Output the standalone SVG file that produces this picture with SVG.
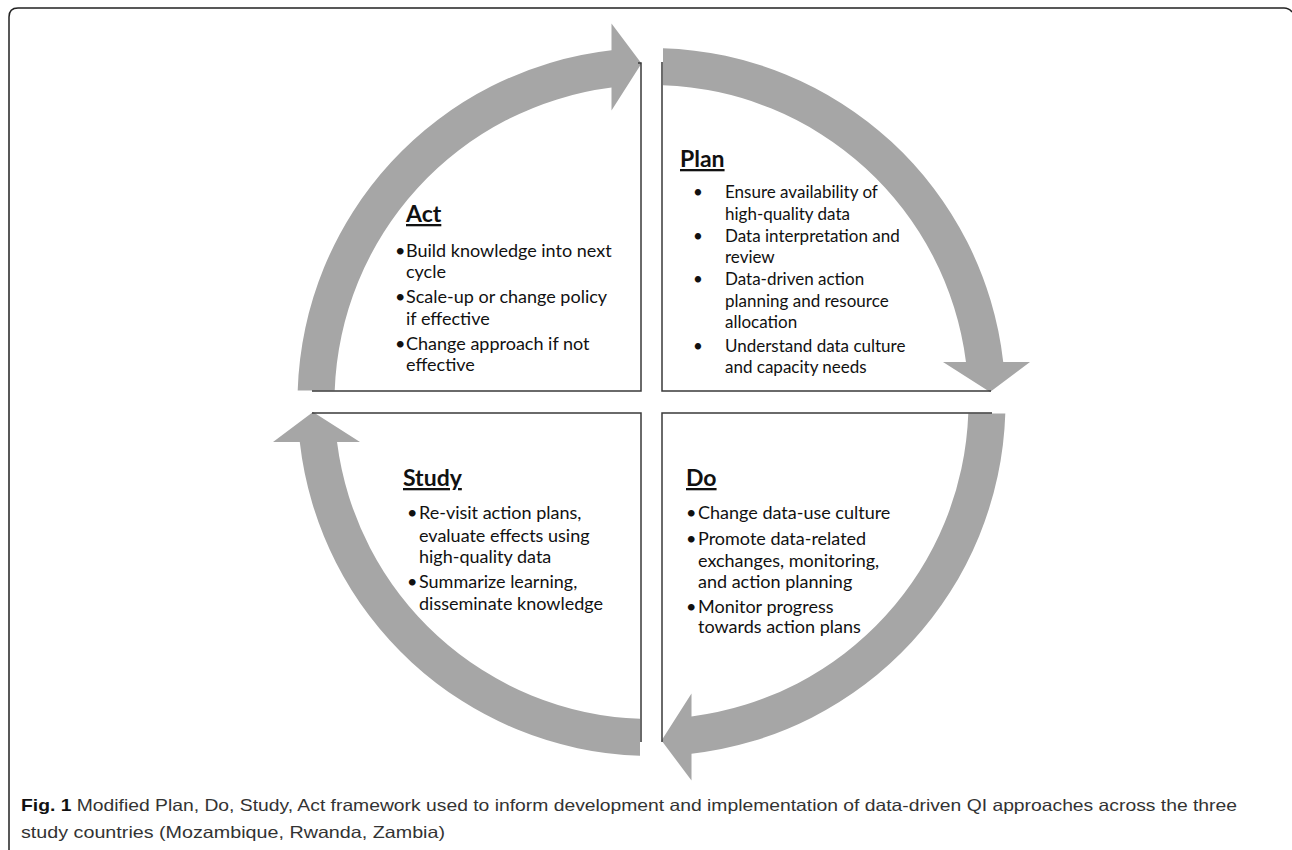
<svg xmlns="http://www.w3.org/2000/svg" width="1292" height="850" viewBox="0 0 1292 850">
<style>
.arrow{fill:#a6a6a6;stroke:none}
.edge{fill:none;stroke:#3a3a3a;stroke-width:1.5}
.t{font-family:Lato,"Open Sans",sans-serif;fill:#111}
.title{font-family:Lato,"Open Sans",sans-serif;font-weight:bold;font-size:23px;text-decoration:underline;fill:#111}
.b18{font-size:18px}
.b17{font-size:17px}
.cap{font-family:"Liberation Sans",Arial,sans-serif;font-size:16.5px;fill:#333}
</style>
<defs>
<path id="arc" class="arrow" d="M663,48.19 A354,354 0 0 1 1003.23,362 L1030,362 L990,392 L943,362 L965.97,362 A317,317 0 0 0 663,85.21 Z"/>
</defs>
<path d="M9,850 V17 Q9,8 18,8 H1284 Q1289,8 1292,12" fill="none" stroke="#222" stroke-width="1.5"/>
<g id="connectors">
<use href="#arc"/>
<use href="#arc" transform="rotate(90 651.5 402)"/>
<use href="#arc" transform="rotate(180 651.5 402)"/>
<use href="#arc" transform="rotate(270 651.5 402)"/>
</g>
<g id="act">
<path class="edge" d="M638,63 H641 V391 H312"/>
<text class="title" x="406" y="222">Act</text>
<g class="t b18">
<text x="395" y="257">•</text><text x="406" y="257">Build knowledge into next</text>
<text x="406" y="278">cycle</text>
<text x="395" y="303">•</text><text x="406" y="303">Scale-up or change policy</text>
<text x="406" y="325">if effective</text>
<text x="395" y="350">•</text><text x="406" y="350">Change approach if not</text>
<text x="406" y="371">effective</text>
</g>
</g>
<g id="plan">
<path class="edge" d="M662,62 V391 H991"/>
<text class="title" x="680" y="167">Plan</text>
<g class="t b17">
<text x="693" y="198">•</text><text x="725" y="198">Ensure availability of</text>
<text x="725" y="220">high-quality data</text>
<text x="693" y="242">•</text><text x="725" y="242">Data interpretation and</text>
<text x="725" y="263">review</text>
<text x="693" y="285">•</text><text x="725" y="285">Data-driven action</text>
<text x="725" y="307">planning and resource</text>
<text x="725" y="328">allocation</text>
<text x="693" y="352">•</text><text x="725" y="352">Understand data culture</text>
<text x="725" y="373">and capacity needs</text>
</g>
</g>
<g id="study">
<path class="edge" d="M312,413 H641 V742"/>
<text class="title" x="403" y="486">Study</text>
<g class="t b18">
<text x="407" y="519">•</text><text x="419" y="519">Re-visit action plans,</text>
<text x="419" y="542">evaluate effects using</text>
<text x="419" y="563">high-quality data</text>
<text x="407" y="588">•</text><text x="419" y="588">Summarize learning,</text>
<text x="419" y="610">disseminate knowledge</text>
</g>
</g>
<g id="do">
<path class="edge" d="M992,413 H662 V742"/>
<text class="title" x="686" y="486">Do</text>
<g class="t b18">
<text x="686" y="519">•</text><text x="698" y="519">Change data-use culture</text>
<text x="686" y="545">•</text><text x="698" y="545">Promote data-related</text>
<text x="698" y="567">exchanges, monitoring,</text>
<text x="698" y="588">and action planning</text>
<text x="686" y="613">•</text><text x="698" y="613">Monitor progress</text>
<text x="698" y="633">towards action plans</text>
</g>
</g>
<g id="caption">
<text class="cap" x="21" y="811" textLength="1216" lengthAdjust="spacingAndGlyphs"><tspan font-weight="bold" fill="#111">Fig. 1</tspan> Modified Plan, Do, Study, Act framework used to inform development and implementation of data-driven QI approaches across the three</text>
<text class="cap" x="21" y="838" textLength="424" lengthAdjust="spacingAndGlyphs">study countries (Mozambique, Rwanda, Zambia)</text>
</g>
</svg>
